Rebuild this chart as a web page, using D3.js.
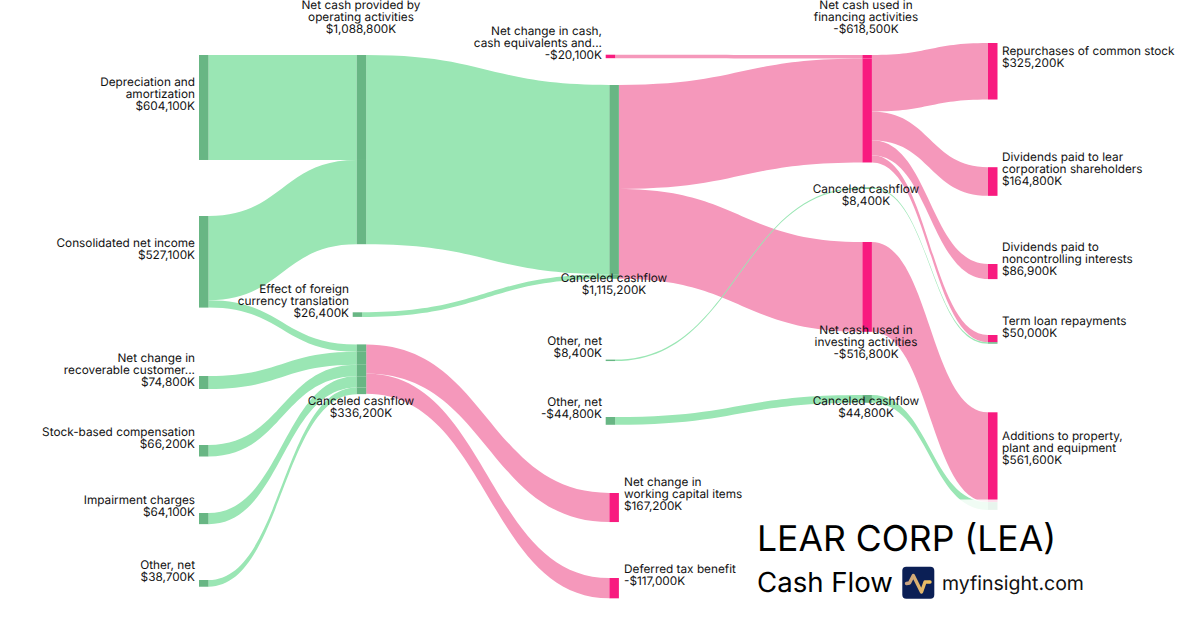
<!DOCTYPE html>
<html>
<head>
<meta charset="utf-8">
<style>
html,body{margin:0;padding:0;background:#fff;}
svg{display:block;font-family:Inter,sans-serif;text-rendering:geometricPrecision;}
</style>
<script src="https://cdn.jsdelivr.net/npm/d3@7/dist/d3.min.js"></script>
</head>
<body>
<svg id="c" width="1200" height="630"></svg>
<script>
// ---------- data (thousands of dollars) ----------
const nodeIds = ["dep","net","rec","stock","imp","oth1","op","fx","c1","chg","c2","oth2","oth3","wc","tax","fin","c3","inv","c4","rep","divL","divN","term","add"];
const nodeLines = [
  ["Depreciation and","amortization"],
  ["Consolidated net income"],
  ["Net change in","recoverable customer..."],
  ["Stock-based compensation"],
  ["Impairment charges"],
  ["Other, net"],
  ["Net cash provided by","operating activities"],
  ["Effect of foreign","currency translation"],
  ["Canceled cashflow"],
  ["Net change in cash,","cash equivalents and..."],
  ["Canceled cashflow"],
  ["Other, net"],
  ["Other, net"],
  ["Net change in","working capital items"],
  ["Deferred tax benefit"],
  ["Net cash used in","financing activities"],
  ["Canceled cashflow"],
  ["Net cash used in","investing activities"],
  ["Canceled cashflow"],
  ["Repurchases of common stock"],
  ["Dividends paid to lear","corporation shareholders"],
  ["Dividends paid to","noncontrolling interests"],
  ["Term loan repayments"],
  ["Additions to property,","plant and equipment"]
];
const nodeValues = [604100,527100,74800,66200,64100,38700,1088800,26400,336200,-20100,1115200,8400,-44800,167200,-117000,-618500,8400,-516800,44800,325200,164800,86900,50000,561600];
const linkSources = ["dep","net","net","rec","stock","imp","oth1","c1","c1","op","fx","chg","c2","c2","fin","fin","fin","fin","oth2","c3","oth3","inv","c4"];
const linkTargets = ["op","op","c1","c1","c1","c1","c1","wc","tax","c2","c2","fin","fin","inv","rep","divL","divN","term","c3","term","c4","add","add"];
const linkValues  = [604100,484700,42400,74800,66200,64100,38700,167200,117000,1088800,26400,20100,598400,516800,325200,164800,86900,41600,8400,8400,44800,516800,44800];
const linkKinds   = ["in","in","in","in","in","in","in","out","out","in","in","out","out","out","out","out","out","out","in","in","in","out","in"];

const titleText = "LEAR CORP (LEA)";
const subtitleText = "Cash Flow";
const siteText = "myfinsight.com";

// ---------- layout (separate from the data) ----------
const layoutX   = {dep:199,net:199,rec:199,stock:199,imp:199,oth1:199,op:356.7,fx:352.7,c1:356.7,chg:605.7,c2:609.4,oth2:605.7,oth3:605.7,wc:609.4,tax:609.4,fin:862.4,c3:862.4,inv:862.4,c4:862.4,rep:988,divL:988,divN:988,term:988,add:988};
const layoutTop = {dep:55,net:216,rec:376,stock:445,imp:513,oth1:580,op:55,fx:312.3,c1:344.4,chg:54.7,c2:85,oth2:359.6,oth3:417,wc:493,tax:578,fin:55,c3:187.4,inv:242,c4:395,rep:43,divL:167.2,divN:264,term:335,add:412.3};
const labelPos  = {dep:[195,106,"end"],net:[195,255,"end"],rec:[195,382,"end"],stock:[195,444,"end"],imp:[195,512,"end"],oth1:[195,577,"end"],
  op:[361,29,"middle"],fx:[349,313,"end"],c1:[361,413,"middle"],chg:[602,55,"end"],c2:[614,290,"middle"],oth2:[602,353,"end"],oth3:[602,414,"end"],
  wc:[624,506,"start"],tax:[624,581,"start"],fin:[866,29,"middle"],c3:[866,201,"middle"],inv:[866,354,"middle"],c4:[866,413,"middle"],
  rep:[1002,63,"start"],divL:[1002,181,"start"],divN:[1002,271,"start"],term:[1002,333,"start"],add:[1002,460,"start"]};
const nodeW = 9.5, lineH = 12;
const colors = {inLink:"#9ae6b4", outLink:"#f598bb", inNode:"#68b684", outNode:"#f81b7f"};

const h = d3.scaleLinear().domain([0,1115200]).range([0,193.8]);
const fmt = v => (v<0?"-":"")+"$"+d3.format(",")(Math.abs(v))+"K";

const nodes = nodeIds.map((id,i)=>({id,i,lines:nodeLines[i],value:nodeValues[i],x0:layoutX[id],x1:layoutX[id]+nodeW,y0:layoutTop[id],inY:layoutTop[id],outY:layoutTop[id],segs:[]}));
const byId = new Map(nodes.map(n=>[n.id,n]));
const links = linkValues.map((v,i)=>({source:byId.get(linkSources[i]),target:byId.get(linkTargets[i]),value:v,kind:linkKinds[i],w:h(v)}));
// links stack on each node in the order they are listed
links.forEach(l=>{
  l.sy=l.source.outY; l.source.outY+=l.w;
  l.ty=l.target.inY;  l.target.segs.push({y:l.target.inY,w:l.w,kind:l.kind}); l.target.inY+=l.w;
});
nodes.forEach(n=>{ if(!n.segs.length){ n.segs.push({y:n.y0,w:n.outY-n.y0,kind:links.find(l=>l.source===n).kind}); } });

const svg = d3.select("#c");
// ribbon: constant vertical thickness between two horizontal-tangent curves
function ribbon(l){
  const x0=l.source.x1, x1=l.target.x0, mx=(x0+x1)/2, p=d3.path();
  p.moveTo(x0,l.sy);
  p.bezierCurveTo(mx,l.sy,mx,l.ty,x1,l.ty);
  p.lineTo(x1,l.ty+l.w);
  p.bezierCurveTo(mx,l.ty+l.w,mx,l.sy+l.w,x0,l.sy+l.w);
  p.closePath();
  return p.toString();
}
svg.append("g").selectAll("path").data(links).join("path")
  .attr("d",ribbon).attr("fill",d=>d.kind==="in"?colors.inLink:colors.outLink);

svg.append("g").selectAll("g").data(nodes).join("g").selectAll("rect").data(n=>n.segs.map(s=>({n,s}))).join("rect")
  .attr("x",d=>d.n.x0).attr("width",nodeW).attr("y",d=>d.s.y).attr("height",d=>d.s.w)
  .attr("fill",d=>d.s.kind==="in"?colors.inNode:colors.outNode);

// pale panel behind the title block
svg.append("rect").attr("x",740).attr("y",499.5).attr("width",460).attr("height",130.5).attr("fill","#fff").attr("opacity",0.85);

const lab = svg.append("g").attr("font-size",11.8).attr("fill","#111");
nodes.forEach(n=>{
  const [x,yLast,anchor]=labelPos[n.id];
  const all=[...n.lines,fmt(n.value)];
  const t=lab.append("text").attr("text-anchor",anchor);
  all.forEach((s,k)=>t.append("tspan").attr("x",x).attr("y",yLast-(all.length-1-k)*lineH+4.3).text(s));
});

svg.append("text").attr("x",757).attr("y",551).attr("font-size",35.5).attr("fill","#000").text(titleText);
svg.append("text").attr("x",757).attr("y",592).attr("font-size",27.6).attr("fill","#000").text(subtitleText);
svg.append("text").attr("x",942).attr("y",590).attr("font-size",19.5).attr("fill","#111").text(siteText);

// logo
const defs=svg.append("defs");
const g=defs.append("linearGradient").attr("id","gold");
g.append("stop").attr("offset","0").attr("stop-color","#c7a181");
g.append("stop").attr("offset","1").attr("stop-color","#f2c35e");
svg.append("rect").attr("x",902.3).attr("y",566.8).attr("width",32).attr("height",32).attr("rx",4).attr("fill","#0b1f55");
svg.append("path").attr("d","M906.5 583.5 L909.5 583 L913.3 575.5 L917.5 584 L921.5 592 L925 582 L930 582")
  .attr("fill","none").attr("stroke","url(#gold)").attr("stroke-width",3.4).attr("stroke-linecap","round").attr("stroke-linejoin","round");
</script>
</body>
</html>
